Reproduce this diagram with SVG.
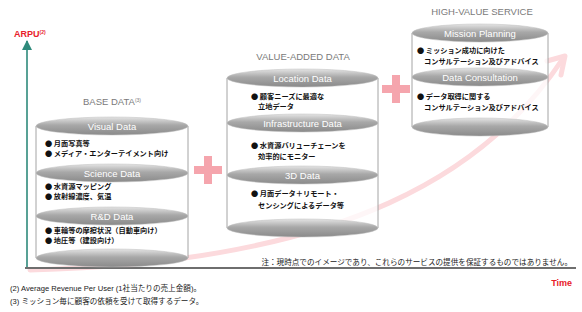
<svg xmlns="http://www.w3.org/2000/svg" width="582" height="312" viewBox="0 0 582 312">
<defs>
<linearGradient id="eg" x1="0" y1="0" x2="0" y2="1">
<stop offset="0" stop-color="#e4e4e4"/>
<stop offset="0.45" stop-color="#a8a8a8"/>
<stop offset="1" stop-color="#8a8a8a"/>
</linearGradient>
<marker id="ah" viewBox="0 0 10 10" refX="9" refY="5" markerWidth="10" markerHeight="10" markerUnits="userSpaceOnUse" orient="auto">
<path d="M0,0 L10,5 L0,10 Z" fill="#2e8a7b"/>
</marker>
<style>
.body{fill:#fff;fill-opacity:0.75;stroke:none}
.side{stroke:#9a9a9a;stroke-width:0.9;fill:none}
.ell{fill:url(#eg);stroke:#bdbdbd;stroke-width:0.5}
.hd{font-family:"Liberation Sans","Noto Sans",sans-serif;font-size:9.5px;fill:#fff;text-anchor:middle}
.bl{font-family:"Noto Sans CJK JP",sans-serif;font-size:7.2px;fill:#111;font-weight:bold}
.tt{font-family:"Liberation Sans","Noto Sans",sans-serif;font-size:9.5px;fill:#7a7a7a;text-anchor:middle}
.plus{fill:#f5a5ad}
.fn{font-family:"Liberation Sans","Noto Sans CJK JP",sans-serif;font-size:7.6px;fill:#222}
.red{font-family:"Liberation Sans",sans-serif;font-size:9px;fill:#e8202a;font-weight:bold}
.tr{fill:none;stroke:#fcdadd;stroke-width:5;stroke-linecap:round;stroke-linejoin:round}
</style>
</defs>
<g id="trend">
<path class="tr" d="M30,270 C350,262 490,170 564,57"/>
<path class="tr" d="M547,61 L565,56 L561,75"/>
</g>
<g id="connectors">
<line x1="27" y1="268" x2="27" y2="41" stroke="#2e8a7b" stroke-width="1.6" marker-end="url(#ah)"/>
<line x1="25" y1="268" x2="576" y2="268" stroke="#6e6e6e" stroke-width="2"/>
</g>
<g id="axis-labels">
<text class="red" x="14" y="37">ARPU<tspan font-size="5" dy="-3">(2)</tspan></text>
<text class="red" x="572" y="286" text-anchor="end">Time</text>
</g>
<g id="base-data">
<text class="tt" x="112" y="105">BASE DATA<tspan font-size="5" dy="-3">(3)</tspan></text>
<rect class="body" x="36" y="126" width="152" height="132"/>
<line class="side" x1="36" y1="126" x2="36" y2="258"/>
<line class="side" x1="188" y1="126" x2="188" y2="258"/>
<ellipse class="ell" cx="112" cy="258" rx="76" ry="9"/>
<ellipse class="ell" cx="112" cy="126" rx="76" ry="9"/>
<text class="hd" x="112" y="130">Visual Data</text>
<text class="bl" x="45" y="146">● 月面写真等</text>
<text class="bl" x="45" y="156">● メディア・エンターテイメント向け</text>
<ellipse class="ell" cx="112" cy="173" rx="76" ry="9"/>
<text class="hd" x="112" y="177">Science Data</text>
<text class="bl" x="45" y="189">● 水資源マッピング</text>
<text class="bl" x="45" y="199">● 放射線濃度、気温</text>
<ellipse class="ell" cx="112" cy="216" rx="76" ry="9"/>
<text class="hd" x="112" y="220">R&amp;D Data</text>
<text class="bl" x="45" y="233">● 車輪等の摩擦状況（自動車向け）</text>
<text class="bl" x="45" y="243">● 地圧等（建設向け）</text>
</g>
<g id="plus-1"><rect class="plus" x="194" y="166" width="28" height="8"/><rect class="plus" x="204" y="156" width="8" height="28"/></g>
<g id="value-added-data">
<text class="tt" x="303" y="60">VALUE-ADDED DATA</text>
<rect class="body" x="227" y="78" width="151" height="150"/>
<line class="side" x1="227" y1="78" x2="227" y2="228"/>
<line class="side" x1="378" y1="78" x2="378" y2="228"/>
<ellipse class="ell" cx="302.5" cy="228" rx="75.5" ry="9"/>
<ellipse class="ell" cx="302.5" cy="78" rx="75.5" ry="9"/>
<text class="hd" x="302.5" y="82">Location Data</text>
<text class="bl" x="251" y="99">● 顧客ニーズに最適な</text>
<text class="bl" x="258" y="109">立地データ</text>
<ellipse class="ell" cx="302.5" cy="123" rx="75.5" ry="9"/>
<text class="hd" x="302.5" y="127">Infrastructure Data</text>
<text class="bl" x="251" y="148">● 水資源バリューチェーンを</text>
<text class="bl" x="258" y="159">効率的にモニター</text>
<ellipse class="ell" cx="302.5" cy="175" rx="75.5" ry="9"/>
<text class="hd" x="302.5" y="179">3D Data</text>
<text class="bl" x="251" y="196">● 月面データ＋リモート・</text>
<text class="bl" x="258" y="208">センシングによるデータ等</text>
</g>
<g id="plus-2"><rect class="plus" x="382" y="85" width="28" height="8"/><rect class="plus" x="392" y="75" width="8" height="28"/></g>
<g id="high-value-service">
<text class="tt" x="482" y="15">HIGH-VALUE SERVICE</text>
<rect class="body" x="412" y="33" width="136" height="94"/>
<line class="side" x1="412" y1="33" x2="412" y2="127"/>
<line class="side" x1="548" y1="33" x2="548" y2="127"/>
<ellipse class="ell" cx="480" cy="127" rx="68" ry="9"/>
<ellipse class="ell" cx="480" cy="33" rx="68" ry="9"/>
<text class="hd" x="480" y="37">Mission Planning</text>
<text class="bl" x="417" y="53">● ミッション成功に向けた</text>
<text class="bl" x="424" y="63.5">コンサルテーション及びアドバイス</text>
<ellipse class="ell" cx="480" cy="77" rx="68" ry="9"/>
<text class="hd" x="480" y="81">Data Consultation</text>
<text class="bl" x="417" y="99">● データ取得に関する</text>
<text class="bl" x="424" y="109.5">コンサルテーション及びアドバイス</text>
</g>
<g id="notes">
<text class="fn" x="572" y="265" text-anchor="end">注：現時点でのイメージであり、これらのサービスの提供を保証するものではありません。</text>
<text class="fn" x="10" y="291">(2) Average Revenue Per User (1社当たりの売上金額)。</text>
<text class="fn" x="10" y="304">(3) ミッション毎に顧客の依頼を受けて取得するデータ。</text>
</g>
</svg>
